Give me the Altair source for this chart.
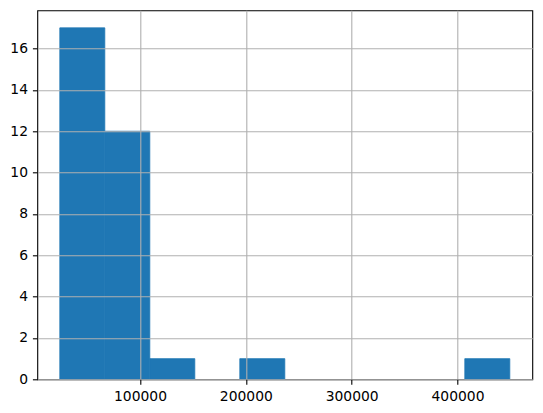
import altair as alt
import pandas as pd

# Histogram bin edges and counts per bin
bin_edges = [24245, 66764, 109283, 151802, 194321, 236840,
             279359, 321878, 364397, 406916, 449435]
counts = [17, 12, 1, 0, 1, 0, 0, 0, 0, 1]

x_ticks = [100000, 200000, 300000, 400000]
y_ticks = [0, 2, 4, 6, 8, 10, 12, 14, 16]

df = pd.DataFrame({
    "left": bin_edges[:-1],
    "right": bin_edges[1:],
    "count": counts,
    "base": [0] * len(counts),
})

axis_common = dict(
    grid=True, gridColor="#b0b0b0", gridWidth=1.1,
    domain=False, ticks=True, tickColor="black", tickSize=4.9, tickWidth=1.1,
    labelFont="DejaVu Sans", labelFontSize=13.9, labelColor="black",
    labelPadding=4.9, title=None, zindex=1,
)

chart = alt.Chart(df).transform_filter(
    "datum.count > 0"
).mark_rect(
    color="#1f77b4", stroke="#1f77b4", strokeWidth=0.8
).encode(
    x=alt.X("left:Q",
            scale=alt.Scale(domain=[2986, 470693], nice=False, zero=False),
            axis=alt.Axis(values=x_ticks, format="d", labelFlush=False, **axis_common)),
    x2="right:Q",
    y=alt.Y("count:Q",
            scale=alt.Scale(domain=[0, 17.85], nice=False),
            axis=alt.Axis(values=y_ticks, format="d", **axis_common)),
    y2="base:Q",
).properties(
    width=495, height=369,
    autosize=alt.AutoSizeParams(type="none"),
    padding={"left": 29.3, "top": 2.3, "right": 2, "bottom": 30},
).configure_view(
    stroke="black", strokeWidth=1.1
)

chart.save("out.html", embed_options={"renderer": "svg", "actions": False})
